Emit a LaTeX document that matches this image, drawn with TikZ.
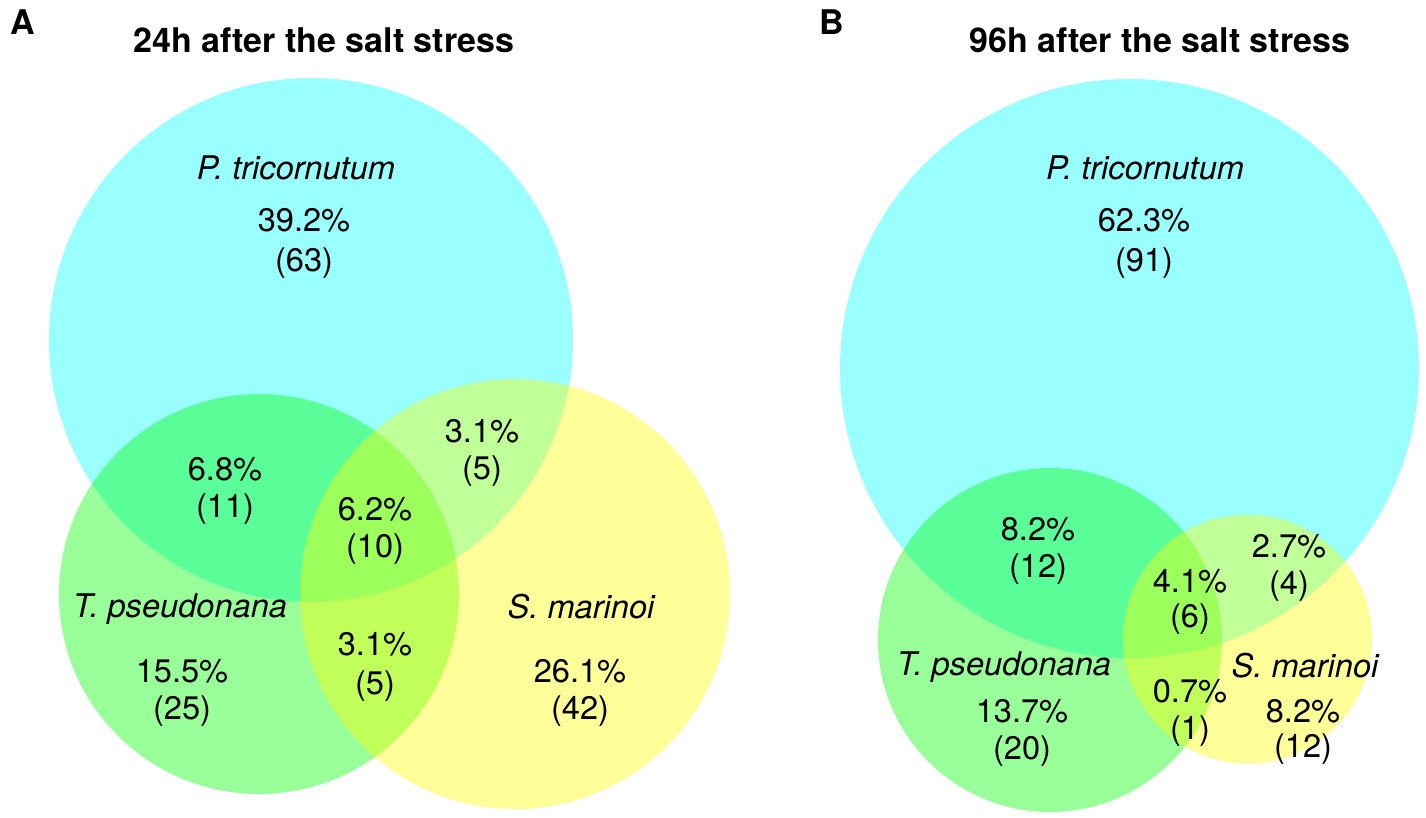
\documentclass[tikz,border=0pt]{standalone}
\usepackage{fontspec}
\setmainfont{TeX Gyre Heros}
\definecolor{vcyan}{RGB}{0,255,255}
\definecolor{vgreen}{RGB}{0,255,0}
\definecolor{vyellow}{RGB}{255,255,0}
\begin{document}
\begin{tikzpicture}[x=0.5pt,y=-0.5pt,
  venn/.style={circle, inner sep=0pt, outer sep=0pt, draw=none, fill opacity=0.4},
  lbl/.style={font=\fontsize{16.3}{19}\selectfont, inner sep=0pt, text=black},
  sp/.style={font=\fontsize{16.3}{19}\selectfont\itshape, inner sep=0pt, text=black},
  ttl/.style={font=\fontsize{17}{20}\selectfont\bfseries, inner sep=0pt, text=black},
  panel/.style={font=\fontsize{17}{20}\selectfont\bfseries, inner sep=0pt, text=black}]
\useasboundingbox[fill=white] (0,0) rectangle (1426,818);
% ---------- Panel A ----------
\node[venn, fill=vcyan, minimum size=262pt] (cA) at (311,340) {};
\node[venn, fill=vgreen, minimum size=200pt] (gA) at (259,594) {};
\node[venn, fill=vyellow, minimum size=215pt] (yA) at (515,594) {};
\node[panel] (labA) at (23,22) {A};
\node[ttl] (tA) at (324,40) {24h after the salt stress};
\node[sp] (ptA) at (296,168) {P. tricornutum};
\node[lbl] (a1) at (304,220) {39.2\%};
\node[lbl] (a1n) at (304,263) {(63)};
\node[lbl] (a2) at (225,469) {6.8\%};
\node[lbl] (a2n) at (225,509) {(11)};
\node[lbl] (a3) at (482,431) {3.1\%};
\node[lbl] (a3n) at (482,471) {(5)};
\node[lbl] (a4) at (375,509) {6.2\%};
\node[lbl] (a4n) at (375,549) {(10)};
\node[sp] (tpA) at (180,609) {T. pseudonana};
\node[lbl] (a5) at (375,644) {3.1\%};
\node[lbl] (a5n) at (375,686) {(5)};
\node[lbl] (a6) at (182,671) {15.5\%};
\node[lbl] (a6n) at (182,711) {(25)};
\node[sp] (smA) at (581,607) {S. marinoi};
\node[lbl] (a7) at (580,671) {26.1\%};
\node[lbl] (a7n) at (580,711) {(42)};
% ---------- Panel B ----------
\node[venn, fill=vcyan, minimum size=289.5pt] (cB) at (1129.5,368.5) {};
\node[venn, fill=vgreen, minimum size=172pt] (gB) at (1050,640) {};
\node[venn, fill=vyellow, minimum size=124.5pt] (yB) at (1247.5,639) {};
\node[panel] (labB) at (832,22) {B};
\node[ttl] (tB) at (1160,40) {96h after the salt stress};
\node[sp] (ptB) at (1145,168) {P. tricornutum};
\node[lbl] (b1) at (1144,220) {62.3\%};
\node[lbl] (b1n) at (1144,263) {(91)};
\node[lbl] (b2) at (1038,529) {8.2\%};
\node[lbl] (b2n) at (1038,569) {(12)};
\node[lbl] (b3) at (1289,546) {2.7\%};
\node[lbl] (b3n) at (1289,586) {(4)};
\node[lbl] (b4) at (1190,581) {4.1\%};
\node[lbl] (b4n) at (1190,619) {(6)};
\node[sp] (tpB) at (1004,667) {T. pseudonana};
\node[sp] (smB) at (1305,666) {S. marinoi};
\node[lbl] (b5) at (1022,711) {13.7\%};
\node[lbl] (b5n) at (1022,751) {(20)};
\node[lbl] (b6) at (1190,691) {0.7\%};
\node[lbl] (b6n) at (1190,731) {(1)};
\node[lbl] (b7) at (1303,711) {8.2\%};
\node[lbl] (b7n) at (1303,749) {(12)};
\end{tikzpicture}
\end{document}
